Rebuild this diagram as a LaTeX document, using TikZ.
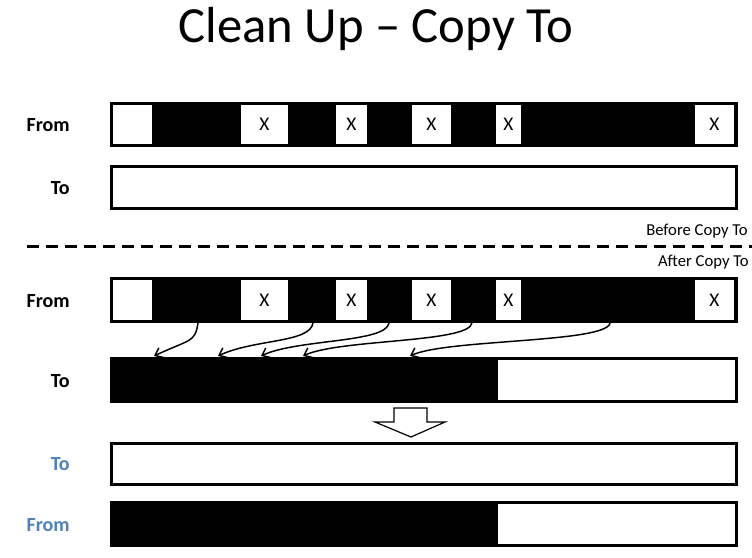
\documentclass[tikz,border=0pt]{standalone}
\usepackage{fontspec}
\setmainfont{Carlito}
\usetikzlibrary{arrows.meta}
\definecolor{labelblue}{RGB}{79,129,189}
\tikzset{
	bar/.style={draw=black,line width=2.25pt,fill=white},
	cell/.style={fill=white},
	rowlabel/.style={anchor=east,font=\fontsize{15}{18}\selectfont\bfseries,inner sep=0pt},
	xmark/.style={font=\fontsize{14.5}{17}\selectfont,inner sep=0pt},
	copyarrow/.style={line width=1.1pt,-{Straight Barb[length=5pt,width=8pt]}},
	note/.style={anchor=east,font=\fontsize{12.5}{15}\selectfont,inner sep=0pt}
}
\newcommand{\fromcells}[2]{% top and bottom of the cells
	\foreach \a/\b/\m in {113/152/0,241/288/1,336/367/1,412/451/1,496/521/1,695/734/1}{
		\fill[cell] (\a,#1) rectangle (\b,#2);
		\ifnum\m=1 \node[xmark] at ({(\a+\b)/2},{(#1+#2)/2}) {X};\fi
	}
}
\begin{document}
\begin{tikzpicture}[x=0.75pt,y=-0.75pt]
	\useasboundingbox (0,0) rectangle (752,557);
	\node (title) at (376,29) {\fontsize{38}{44}\selectfont Clean Up -- Copy To};
	% before copy to
	\node[rowlabel] (from1lbl) at (70,125) {From};
	\fill[black] (110,102) rectangle (738,147);
	\fromcells{105}{144}
	\node[rowlabel] (to1lbl) at (70,188) {To};
	\draw[bar] (111.5,166.5) rectangle (736.5,208.5);
	% separator
	\node[note] (before) at (748,231) {Before Copy To};
	\draw[line width=2.25pt,dash pattern=on 9pt off 5.25pt] (27,246) -- (752,246);
	\node[note] (after) at (749,262) {After Copy To};
	% after copy to
	\node[rowlabel] (from2lbl) at (70,301) {From};
	\fill[black] (110,277) rectangle (738,323);
	\fromcells{280}{320}
	\node[rowlabel] (to2lbl) at (70,381) {To};
	\draw[bar] (111.5,358.5) rectangle (736.5,401.5);
	\fill[black] (110,357) rectangle (498,403);
	\foreach \s/\e [count=\i] in {198/154,313/218,389/261,472/303,610/410}{
		\coordinate (s\i) at (\s,323);
		\coordinate (e\i) at (\e,356);
		\draw[copyarrow] (s\i) .. controls +(-3,20) and +(36,-17) .. (e\i);
	}
	% result
	\draw[line width=0.9pt,fill=white] (394,408) -- (427,408) -- (427,422) -- (445,422)
		-- (411,437) -- (375,422) -- (394,422) -- cycle;
	\node[rowlabel,labelblue] (to3lbl) at (70,464) {To};
	\draw[bar] (111.5,443.5) rectangle (736.5,484.5);
	\node[rowlabel,labelblue] (from3lbl) at (70,525) {From};
	\draw[bar] (111.5,502.5) rectangle (736.5,545.5);
	\fill[black] (110,501) rectangle (498,547);
\end{tikzpicture}
\end{document}
